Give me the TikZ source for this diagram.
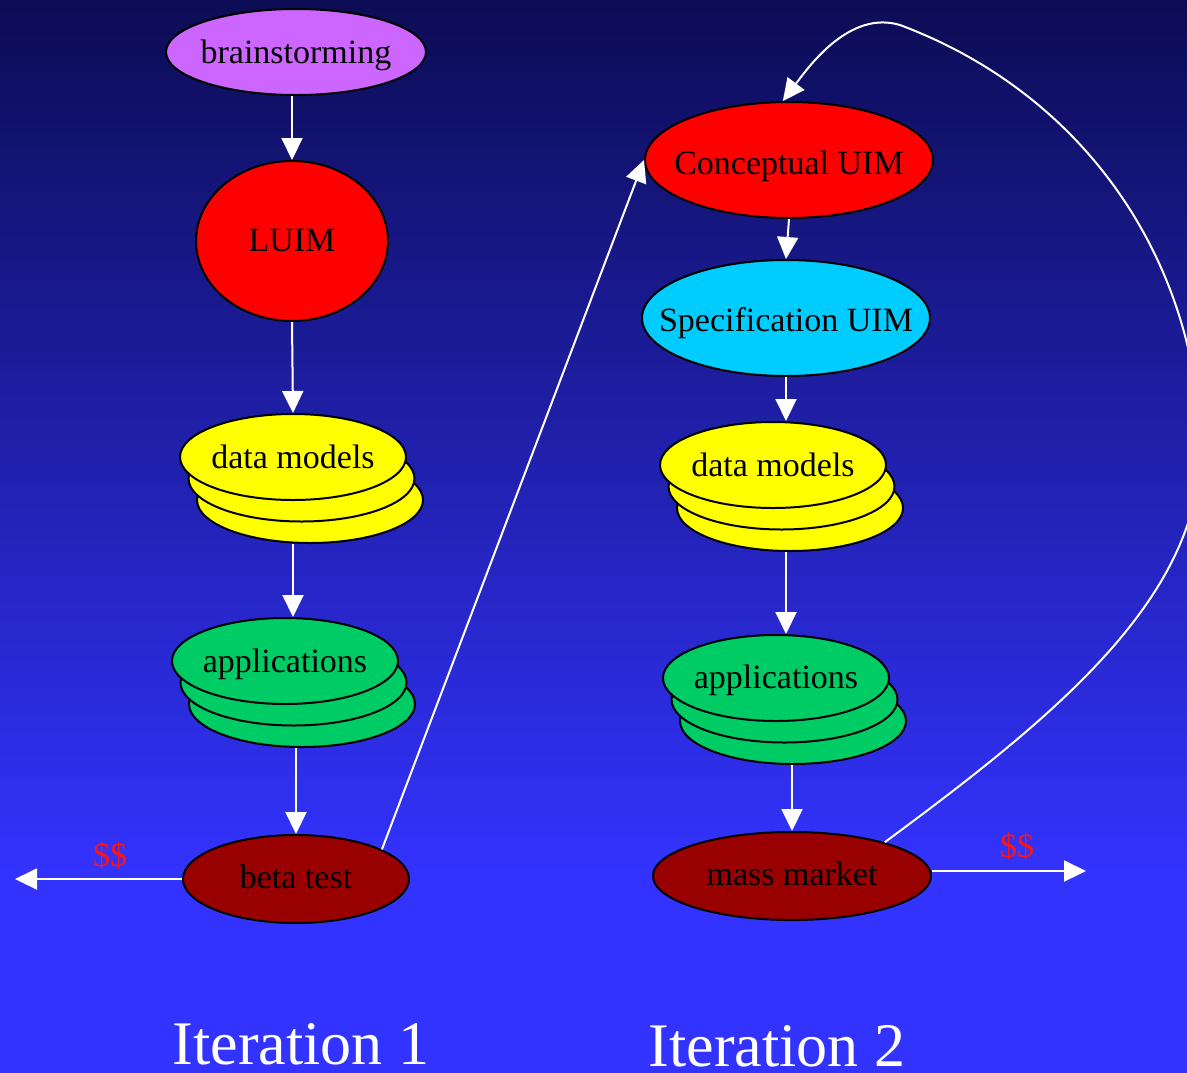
\documentclass[tikz,border=0pt]{standalone}
\usepackage{fontspec}
\setmainfont{Liberation Serif}
\usetikzlibrary{arrows.meta,shapes.geometric}
\pgfdeclareverticalshading{bgshade}{100bp}{rgb(0bp)=(0.2,0.2,1); rgb(34bp)=(0.2,0.2,1); rgb(75bp)=(0.047,0.047,0.333); rgb(100bp)=(0.047,0.047,0.333)}
\definecolor{violetfill}{RGB}{204,102,255}
\definecolor{redfill}{RGB}{255,0,0}
\definecolor{cyanfill}{RGB}{0,204,255}
\definecolor{yellowfill}{RGB}{255,255,0}
\definecolor{greenfill}{RGB}{0,204,102}
\definecolor{darkredfill}{RGB}{153,0,0}
\definecolor{moneyred}{RGB}{255,20,20}
% name, x, y, diameter-x (pt), diameter-y (pt), colour, text, label yshift
\newcommand{\stackell}[8]{%
  \node[ell, fill=#6, minimum width=#4pt, minimum height=#5pt] (#1c) at (#2+17,#3+43) {};
  \node[ell, fill=#6, minimum width=#4pt, minimum height=#5pt] (#1b) at (#2+8.5,#3+21.5) {};
  \node[ell, fill=#6, minimum width=#4pt, minimum height=#5pt, label={[lbl,yshift=#8]center:#7}] (#1) at (#2,#3) {};
}
\begin{document}
\begin{tikzpicture}[x=0.5pt,y=-0.5pt,
  ell/.style={ellipse, draw=black, line width=1pt, inner sep=0pt},
  lbl/.style={font=\fontsize{17}{20}\selectfont, text=black, inner sep=0pt},
  flow/.style={draw=white, line width=1pt, -{Triangle[length=11pt,width=10.5pt]}},
  money/.style={font=\fontsize{17}{20}\selectfont, text=moneyred, inner sep=0pt},
  iter/.style={font=\fontsize{31}{36}\selectfont, text=white, inner sep=0pt}]
\useasboundingbox (0,0) rectangle (1187,1072);
\shade[shading=bgshade] (0,0) rectangle (1187,1072);
\clip (0,0) rectangle (1187,1072);

% Iteration 1
\node[ell, fill=violetfill, minimum width=130pt, minimum height=43pt, label={[lbl,yshift=-1.5pt]center:brainstorming}] (bs) at (296,52) {};
\node[ell, fill=redfill, minimum width=96pt, minimum height=80pt, label={[lbl]center:LUIM}] (luim) at (292,241) {};
\stackell{dmL}{293}{457}{113}{43}{yellowfill}{data models}{0pt}
\stackell{appL}{285}{661}{113}{43}{greenfill}{applications}{-1.5pt}
\node[ell, fill=darkredfill, minimum width=113pt, minimum height=44pt, label={[lbl,yshift=1pt]center:beta test}] (beta) at (296,879) {};

% Iteration 2
\node[ell, fill=redfill, minimum width=144pt, minimum height=58pt, label={[lbl,yshift=-3pt]center:Conceptual UIM}] (cuim) at (789,160) {};
\node[ell, fill=cyanfill, minimum width=144pt, minimum height=58pt, label={[lbl,yshift=-2.5pt]center:Specification UIM}] (spec) at (786,318) {};
\stackell{dmR}{773}{465}{113}{43}{yellowfill}{data models}{0pt}
\stackell{appR}{776}{678}{113}{43}{greenfill}{applications}{-1pt}
\node[ell, fill=darkredfill, minimum width=139pt, minimum height=44pt, label={[lbl,yshift=1pt]center:mass market}] (mass) at (792,876) {};

\coordinate (moneyL) at (15,879);
\coordinate (moneyR) at (1086,871);

% connectors
\draw[flow] (luim.north |- bs.south) -- (luim.north);
\draw[flow] (luim.south) -- (dmL.north);
\draw[flow] (dmL.center |- dmLc.south) -- (dmL.center |- appL.north);
\draw[flow] (beta.north |- appLc.south) -- (beta.north);
\draw[flow] (beta.west) -- (moneyL);
\draw[flow] (beta.19) -- (cuim.west);
\draw[flow] (cuim.south) -- (spec.north);
\draw[flow] (spec.south) -- (spec.south |- dmR.north);
\draw[flow] (spec.south |- dmRc.south) -- (spec.south |- appR.north);
\draw[flow] (mass.north |- appRc.south) -- (mass.north);
\draw[flow] ([yshift=2.5pt]mass.east) -- (moneyR);
\draw[flow] (mass.20) .. controls (1050,720) and (1200,600) .. (1200,450)
  .. controls (1200,280) and (1100,100) .. (900,25)
  .. controls (850,10) and (810,65) .. (cuim.96);

% labels
\node[money] (dl) at (110,855) {\$\$};
\node[money] (dr) at (1017,846) {\$\$};
\node[iter, anchor=base] (it1) at (301,1064) {Iteration 1};
\node[iter, anchor=base] (it2) at (777,1066) {Iteration 2};
\end{tikzpicture}
\end{document}
